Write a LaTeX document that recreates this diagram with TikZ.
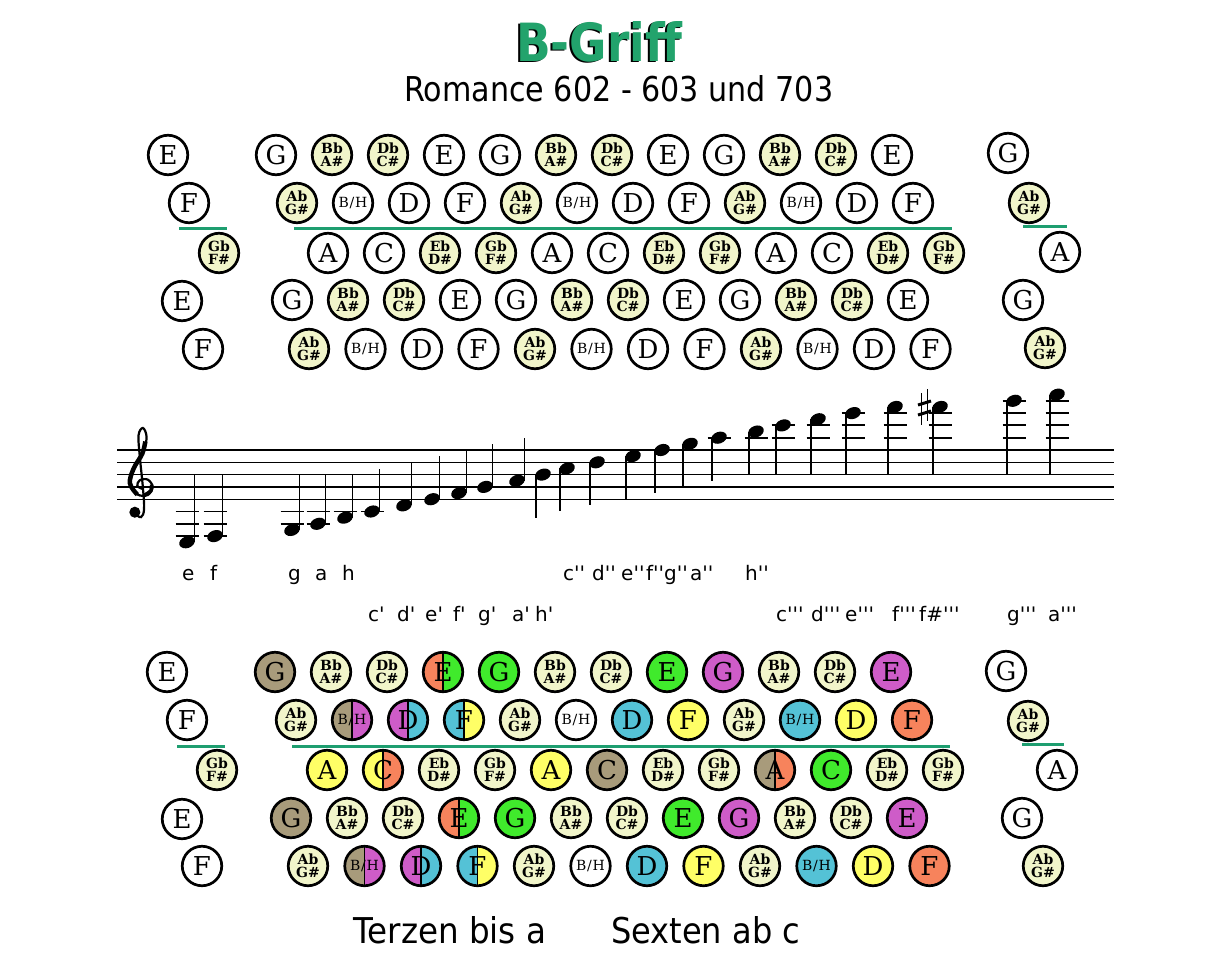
\documentclass[tikz,border=0pt]{standalone}
\usepackage{fontspec}
\usepackage{graphicx}
\newfontfamily\keyfont{DejaVu Serif}
\newfontfamily\comic{DejaVu Sans}
\definecolor{pale}{RGB}{241,245,202}
\definecolor{tanc}{RGB}{168,155,123}
\definecolor{orgc}{RGB}{247,131,92}
\definecolor{grnc}{RGB}{64,234,44}
\definecolor{magc}{RGB}{206,92,200}
\definecolor{cync}{RGB}{84,194,214}
\definecolor{yelc}{RGB}{255,255,102}
\definecolor{tealline}{RGB}{30,158,112}
\definecolor{titlegreen}{RGB}{34,163,108}
\newcommand\twol[2]{\vbox{\fontsize{14}{13}\bfseries\selectfont\halign{\hfil##\hfil\cr#1\cr#2\cr}}}
\newcommand\Lbb{\twol{Bb}{A\#}}
\newcommand\Ldb{\twol{Db}{C\#}}
\newcommand\Leb{\twol{Eb}{D\#}}
\newcommand\Lgb{\twol{Gb}{F\#}}
\newcommand\Lab{\twol{Ab}{G\#}}
\newcommand\Lbh{{\fontsize{14}{12}\selectfont B\kern0.8pt/\kern0.8pt H}}
\newcommand\pr{\textquotesingle}
\newcommand\keyrow[5]{%
  \foreach \lab/\sty [count=\i] in {#5} {\node[key,\sty] (#1\i) at ({#3+(\i-1)*#4},#2) {\lab};}}
\tikzset{
  key/.style={circle, draw=black, line width=2.7pt, minimum size=39.5pt, inner sep=0pt,
    font=\keyfont\fontsize{26}{24}\selectfont, text=black},
  wk/.style={fill=white}, bk/.style={fill=pale}, tan/.style={fill=tanc},
  org/.style={fill=orgc}, grn/.style={fill=grnc}, mag/.style={fill=magc},
  cyn/.style={fill=cync}, yel/.style={fill=yelc},
  split/.style 2 args={fill=#1, path picture={
    \fill[#2] (path picture bounding box.north) rectangle (path picture bounding box.south east);
    \draw[line width=1.3pt] (path picture bounding box.north) -- (path picture bounding box.south);}},
  sog/.style={split={orgc}{grnc}}, stm/.style={split={tanc}{magc}},
  smc/.style={split={magc}{cync}}, scy/.style={split={cync}{yelc}},
  syo/.style={split={yelc}{orgc}}, sto/.style={split={tanc}{orgc}},
  rowline/.style={draw=tealline, line width=3pt},
  staffline/.style={line width=1.2pt},
  stem/.style={line width=1.4pt},
  ledger/.style={line width=1.9pt},
  notelbl/.style={anchor=base west, inner sep=0pt, font=\comic\fontsize{20}{20}\selectfont},
  bigtxt/.style={anchor=base west, inner sep=0pt, font=\comic}
}
\begin{document}
\begin{tikzpicture}[x=1pt,y=-1pt]
\path[use as bounding box, fill=white] (0,0) rectangle (1209,960);

% ---- titles
\node[bigtxt, text=black] (titleshadow) at (514,63) {\resizebox{166pt}{40pt}{\bfseries B-Griff}};
\node[bigtxt, text=titlegreen] (title) at (516,62) {\resizebox{166pt}{40pt}{\bfseries B-Griff}};
\node[bigtxt] (subtitle) at (404,102) {\resizebox{429pt}{26pt}{Romance 602 - 603 und 703}};

% ---- top keyboard
\keyrow{ta}{155}{276}{56}{G/wk, \Lbb/bk, \Ldb/bk, E/wk, G/wk, \Lbb/bk, \Ldb/bk, E/wk, G/wk, \Lbb/bk, \Ldb/bk, E/wk}
\keyrow{tb}{203}{297}{56}{\Lab/bk, \Lbh/wk, D/wk, F/wk, \Lab/bk, \Lbh/wk, D/wk, F/wk, \Lab/bk, \Lbh/wk, D/wk, F/wk}
\keyrow{tc}{253}{328}{56}{A/wk, C/wk, \Leb/bk, \Lgb/bk, A/wk, C/wk, \Leb/bk, \Lgb/bk, A/wk, C/wk, \Leb/bk, \Lgb/bk}
\keyrow{td}{300}{292}{56}{G/wk, \Lbb/bk, \Ldb/bk, E/wk, G/wk, \Lbb/bk, \Ldb/bk, E/wk, G/wk, \Lbb/bk, \Ldb/bk, E/wk}
\keyrow{te}{349}{309}{56.5}{\Lab/bk, \Lbh/wk, D/wk, F/wk, \Lab/bk, \Lbh/wk, D/wk, F/wk, \Lab/bk, \Lbh/wk, D/wk, F/wk}
\node[key,wk] (tl1) at (168,155) {E};
\node[key,wk] (tl2) at (189,203) {F};
\node[key,bk] (tl3) at (219,253) {\Lgb};
\node[key,wk] (tl4) at (182,301) {E};
\node[key,wk] (tl5) at (203,349) {F};
\node[key,wk] (tr1) at (1008,153) {G};
\node[key,bk] (tr2) at (1029,203) {\Lab};
\node[key,wk] (tr3) at (1060,252) {A};
\node[key,wk] (tr4) at (1023,300) {G};
\node[key,bk] (tr5) at (1045,348) {\Lab};
\draw[rowline] (179,228) -- (227,228);
\draw[rowline] (294,228) -- (952,228);
\draw[rowline] (1023,226) -- (1067,226);

% ---- staff
\foreach \k in {0,...,4} \draw[staffline] (117,{450+12.3*\k}) -- (1114,{450+12.3*\k});
\begin{scope}[shift={(141,487)}, x=12.3pt, y=12.3pt]
  \draw[line width=2.2pt, line cap=round] plot[smooth, tension=0.6] coordinates {(0.1,-0.15) (-0.3,0.1) (-0.1,0.55) (0.55,0.6) (0.95,0.0) (0.55,-0.65) (-0.3,-0.6) (-0.95,0.3) (-0.6,1.6) (0.2,2.9) (0.45,4.1) (0.15,4.8) (-0.2,4.2) (-0.1,2.5) (0.15,0.0) (0.25,-1.8) (0.0,-2.45) (-0.45,-2.2)};
  \draw[line width=4.5pt] plot[smooth, tension=0.6] coordinates {(-0.3,-0.62) (-0.9,0.3) (-0.6,1.5) (0.1,2.7) (0.35,3.7)};
  \draw[line width=3.5pt] plot[smooth, tension=0.6] coordinates {(0.2,-0.7) (0.8,-0.3) (0.85,0.2)};
  \fill (-0.5,-2.05) circle (0.45);
\end{scope}
\foreach \nx/\st in {187/-7, 215/-6, 292/-5, 318/-4, 345/-3, 372/-2, 404/-1, 432/0, 459/1, 485/2, 517/3, 543/4, 567/5, 597/6, 633/7, 662/8, 690/9, 719/10, 756/11, 783/12, 818/13, 853/14, 895/15, 940/15, 1014/16, 1057/17} {
  \pgfmathsetmacro\ny{499.2-6.15*\st}
  \ifnum\st<4
    \pgfmathsetmacro\ey{min(\ny-43,474.6)}
    \draw[stem] (\nx+7.2,\ny) -- (\nx+7.2,\ey);
  \else
    \pgfmathsetmacro\ey{max(\ny+43,474.6)}
    \draw[stem] (\nx-7.2,\ny) -- (\nx-7.2,\ey);
  \fi
  \foreach \ls in {-2,-4,-6} {\ifnum\ls<\st\relax\else
    \draw[ledger] (\nx-11.5,{499.2-6.15*\ls}) -- (\nx+11.5,{499.2-6.15*\ls});\fi}
  \foreach \ls in {10,12,14,16} {\ifnum\st<\ls\relax\else
    \draw[ledger] (\nx-11.5,{499.2-6.15*\ls}) -- (\nx+11.5,{499.2-6.15*\ls});\fi}
  \fill[rotate around={20:(\nx,\ny)}] (\nx,\ny) ellipse [x radius=8, y radius=5.8];
}
% sharp
\draw[line width=1.2pt] (921.5,393) -- (921.5,425) (927.5,389) -- (927.5,421);
\draw[line width=3pt] (918,405) -- (931,401) (918,415) -- (931,411);

% ---- note names
\foreach \t/\xx/\yy [count=\k] in {e/182/580, f/210/580, g/288/580, a/315/580, h/342/580,
  c\pr\pr/563/580, d\pr\pr/592/580, e\pr\pr/621/580, f\pr\pr/646/580, g\pr\pr/664/580, a\pr\pr/690/580, h\pr\pr/745/580,
  c\pr/368/621, d\pr/397/621, e\pr/425/621, f\pr/453/621, g\pr/478/621, a\pr/512/621, h\pr/535/621,
  c\pr\pr\pr/776/621, d\pr\pr\pr/811/621, e\pr\pr\pr/845/621, f\pr\pr\pr/892/621, f\#\pr\pr\pr/919/621,
  g\pr\pr\pr/1007/621, a\pr\pr\pr/1048/621}
  \node[notelbl] (nl\k) at (\xx,\yy) {\t};

% ---- bottom keyboard
\keyrow{ba}{672}{275}{56}{G/tan, \Lbb/bk, \Ldb/bk, E/sog, G/grn, \Lbb/bk, \Ldb/bk, E/grn, G/mag, \Lbb/bk, \Ldb/bk, E/mag}
\keyrow{bb}{720}{296}{56}{\Lab/bk, \Lbh/stm, D/smc, F/scy, \Lab/bk, \Lbh/wk, D/cyn, F/yel, \Lab/bk, \Lbh/cyn, D/yel, F/org}
\keyrow{bc}{770}{327}{56}{A/yel, C/syo, \Leb/bk, \Lgb/bk, A/yel, C/tan, \Leb/bk, \Lgb/bk, A/sto, C/grn, \Leb/bk, \Lgb/bk}
\keyrow{bd}{818}{291}{56}{G/tan, \Lbb/bk, \Ldb/bk, E/sog, G/grn, \Lbb/bk, \Ldb/bk, E/grn, G/mag, \Lbb/bk, \Ldb/bk, E/mag}
\keyrow{be}{866}{308}{56.5}{\Lab/bk, \Lbh/stm, D/smc, F/scy, \Lab/bk, \Lbh/wk, D/cyn, F/yel, \Lab/bk, \Lbh/cyn, D/yel, F/org}
\node[key,wk] (bl1) at (167,672) {E};
\node[key,wk] (bl2) at (187,720) {F};
\node[key,bk] (bl3) at (217,770) {\Lgb};
\node[key,wk] (bl4) at (182,819) {E};
\node[key,wk] (bl5) at (202,866) {F};
\node[key,wk] (br1) at (1006,671) {G};
\node[key,bk] (br2) at (1028,721) {\Lab};
\node[key,wk] (br3) at (1057,770) {A};
\node[key,wk] (br4) at (1022,818) {G};
\node[key,bk] (br5) at (1043,866) {\Lab};
\draw[rowline] (177,746) -- (225,746);
\draw[rowline] (292,746) -- (950,746);
\draw[rowline] (1022,744) -- (1064,744);

% ---- footer
\node[bigtxt] (terz) at (353,943) {\resizebox{193pt}{27pt}{Terzen bis a}};
\node[bigtxt] (sext) at (611,943) {\resizebox{189pt}{27pt}{Sexten ab c}};
\end{tikzpicture}
\end{document}
